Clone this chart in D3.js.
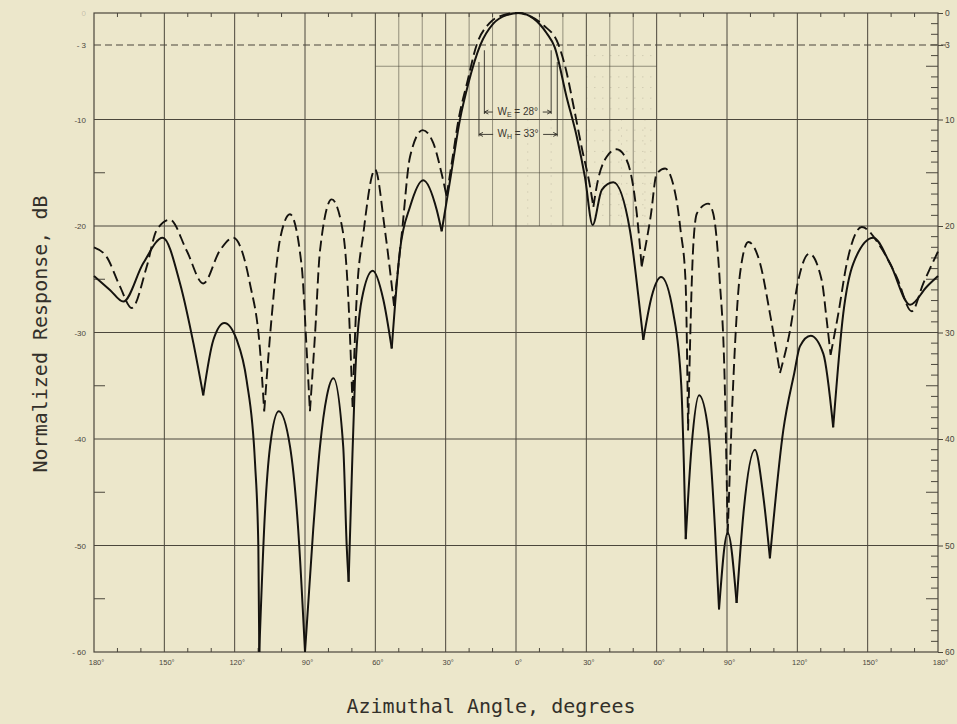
<!DOCTYPE html>
<html><head><meta charset="utf-8">
<script src="https://cdn.jsdelivr.net/npm/d3@7"></script>
<style>
html,body{margin:0;padding:0;background:#ece7cb;}
svg{display:block;}
</style></head><body>
<svg id="chart" width="957" height="724"></svg>
<script>
// ---- data ----
const xTickValues = [-180,-150,-120,-90,-60,-30,0,30,60,90,120,150,180];
const xTickLabels = ["180°","150°","120°","90°","60°","30°","0°","30°","60°","90°","120°","150°","180°"];
const yTickValues = [0,-3,-10,-20,-30,-40,-50,-60];
const yLeftLabels = ["0","- 3","-10","-20","-30","-40","-50","- 60"];
const yRightLabels = ["0","3","10","20","30","40","50","60"];

const solidAngle = [-180,-173.2,-167.5,-159,-150.7,-143.3,-137.6,-133.4,-129.1,-124.4,-119.1,-114.9,-111.3,-109.9,-109.5,-107.1,-104.9,-101.2,-96.4,-92.9,-90,-86.5,-83.6,-80.7,-77.9,-73.7,-72.2,-71.4,-70.1,-68.7,-65.8,-61.1,-56.6,-53.0,-49.5,-45.2,-39.6,-33.8,-31.7,-28.1,-23.9,-20.3,-15.2,-9.7,-4.0,1.2,7.4,13.1,16.5,21.6,25.9,29.4,32.7,36.6,41.5,48.6,52.2,54.3,57.9,61.9,67.1,70.5,71.6,72.4,74.9,78.1,82.0,84.9,86.6,90.3,94.1,97.0,101.9,105.5,108.3,114.0,118.7,121.1,125.7,131.1,135.3,139.6,143.9,152.4,159.5,168.1,175.2,180];
const solidDb = [-24.7,-26.0,-27.1,-23.5,-21.1,-25.4,-31.0,-35.9,-30.7,-29.1,-30.7,-34.5,-42.3,-50.1,-60,-47.0,-40.7,-37.4,-40.7,-48.5,-60,-48.5,-40.7,-36.0,-34.3,-40.7,-50.1,-53.4,-43.9,-34.5,-26.9,-24.2,-26.9,-31.5,-22.3,-18.2,-15.7,-18.5,-20.5,-15.7,-10.0,-6.6,-3.0,-1.0,-0.2,0,-0.5,-1.9,-3.2,-7.9,-11.6,-15.4,-19.9,-16.6,-15.9,-20.4,-26.6,-30.7,-26.6,-24.8,-28.2,-35.0,-42.3,-49.4,-40.7,-35.9,-39.2,-48.5,-56.0,-48.8,-55.4,-47.0,-41.0,-45.4,-51.2,-39.2,-33.8,-31.3,-30.3,-32.0,-38.9,-28.2,-23.5,-21.1,-23.5,-27.4,-25.7,-24.7];

const dashedAngle = [-180,-174.6,-168.9,-163.9,-157.5,-153.3,-147.6,-140.5,-133.4,-126.3,-120.6,-113.5,-109.2,-107.4,-104.2,-100.7,-96.4,-91.4,-89.3,-87.9,-85.7,-83.6,-78.6,-73.7,-71.5,-69.7,-68.0,-65.1,-60.1,-55.9,-52.0,-48.7,-45.2,-39.8,-35.3,-31.7,-29.6,-27.0,-24.5,-20.8,-16.8,-11.5,-5.5,0.5,6,12,18,21.5,24.6,28.0,31.6,33.0,34.4,38.7,42.9,47.2,51.5,53.6,57.5,60.0,63.6,68.5,70.2,72.3,73.4,75.6,77.2,82.0,84.1,86.9,89.0,90.3,92.7,95.6,99.1,104.1,108.3,112.6,116.9,120.4,125.1,130.4,132.5,134.2,137.5,141.1,147.5,155.3,162.4,168.8,173.7,180];
const dashedDb = [-22.0,-22.9,-25.7,-27.7,-23.8,-20.4,-19.4,-22.3,-25.4,-22.3,-21.1,-25.4,-31.6,-37.4,-28.5,-21.3,-18.9,-23.8,-31.6,-37.4,-30.1,-22.3,-17.5,-20.7,-26.9,-37.0,-26.9,-20.7,-14.7,-20.4,-27.5,-20.7,-13.5,-11.0,-12.2,-15.1,-17.2,-13.5,-10.0,-6.5,-3.0,-1.0,-0.2,0,-0.3,-1.2,-2.9,-5.5,-8.8,-12.6,-16.3,-18.2,-16.3,-13.5,-12.8,-13.8,-18.8,-23.8,-19.0,-15.1,-14.6,-17.6,-20.4,-25.1,-39.2,-21.9,-18.8,-17.9,-18.8,-25.1,-34.5,-49.0,-34.5,-24.4,-21.5,-23.5,-28.2,-33.8,-29.8,-25.1,-22.6,-25.1,-28.8,-32.1,-28.2,-23.5,-20.1,-21.9,-24.8,-28.0,-25.4,-22.4];

const beamPlanes = ["E","H"];
const beamWidthDeg = [28,33];

// ---- drawing ----
const W = 957, H = 724;
const svg = d3.select("#chart");
const x = d3.scaleLinear().domain([-180,180]).range([94,938]);
const y = d3.scaleLinear().domain([0,-60]).range([13,652]);
const ink = "#2f2c25";
const gridCol = "#4b473c";

svg.append("rect").attr("width",W).attr("height",H).attr("fill","#ece7cb");

const g = svg.append("g");

// fine dotted grid (detail region)
const dots = g.append("g").attr("stroke",gridCol).attr("stroke-opacity",0.3).attr("stroke-width",0.8).attr("stroke-dasharray","1,7");
d3.range(-4,-20,-1).filter(v=>v%5!==0).forEach(v=>{
  dots.append("line").attr("x1",x(30)).attr("x2",x(60)).attr("y1",y(v)).attr("y2",y(v));
});
[5,15,45,55].forEach(a=>{
  dots.append("line").attr("x1",x(a)).attr("x2",x(a)).attr("y1",y(-10)).attr("y2",y(-20));
});

// fine solid grid in central region
const fine = g.append("g").attr("stroke",gridCol).attr("stroke-width",0.8).attr("stroke-opacity",0.7);
[-50,-40,-20,-10,10,20,40,50].forEach(a=>{
  fine.append("line").attr("x1",x(a)).attr("x2",x(a)).attr("y1",y(0)).attr("y2",y(-20));
});
[-5,-15].forEach(v=>{
  fine.append("line").attr("x1",x(-60)).attr("x2",x(60)).attr("y1",y(v)).attr("y2",y(v));
});

// major grid
const major = g.append("g").attr("stroke",gridCol).attr("stroke-width",1);
xTickValues.slice(1,-1).forEach(a=>{
  major.append("line").attr("x1",x(a)).attr("x2",x(a)).attr("y1",y(0)).attr("y2",y(-60));
});
[-10,-20,-30,-40,-50].forEach(v=>{
  major.append("line").attr("x1",x(-180)).attr("x2",x(180)).attr("y1",y(v)).attr("y2",y(v));
});
// -3 dB reference
g.append("line").attr("x1",x(-180)).attr("x2",x(180)+8).attr("y1",y(-3)).attr("y2",y(-3))
  .attr("stroke",gridCol).attr("stroke-width",1.1).attr("stroke-dasharray","7,4");

// frame
g.append("rect").attr("x",x(-180)).attr("y",y(0)).attr("width",x(180)-x(-180)).attr("height",y(-60)-y(0))
  .attr("fill","none").attr("stroke",gridCol).attr("stroke-width",1.2);

// minor ticks top & bottom every 10°
const tk = g.append("g").attr("stroke",gridCol).attr("stroke-width",1);
d3.range(-170,180,10).filter(a=>a%30!==0).forEach(a=>{
  tk.append("line").attr("x1",x(a)).attr("x2",x(a)).attr("y1",y(0)).attr("y2",y(0)+4);
  tk.append("line").attr("x1",x(a)).attr("x2",x(a)).attr("y1",y(-60)).attr("y2",y(-60)-4);
});
// right ticks every 1 dB
d3.range(-1,-60,-1).filter(v=>v%10!==0).forEach(v=>{
  const len = (v%5===0)?12:7;
  tk.append("line").attr("x1",x(180)).attr("x2",x(180)-len).attr("y1",y(v)).attr("y2",y(v));
});
// left minor ticks
[-15,-25,-35,-45,-55].forEach(v=>{
  tk.append("line").attr("x1",x(-180)).attr("x2",x(-180)+11).attr("y1",y(v)).attr("y2",y(v));
});

// axes labels via d3 axes
const fmtX = d=>xTickLabels[xTickValues.indexOf(d)];
const ax = svg.append("g").attr("transform",`translate(2,${y(-60)})`)
  .call(d3.axisBottom(x).tickValues(xTickValues).tickFormat(fmtX).tickSize(0).tickPadding(8));
ax.select(".domain").remove();
ax.selectAll("text").attr("font-family","Liberation Sans, Arial, sans-serif").attr("font-size",7.5).attr("fill","#4a463c");

const ayl = svg.append("g").attr("transform",`translate(${x(-180)},0)`)
  .call(d3.axisLeft(y).tickValues(yTickValues).tickFormat(d=>yLeftLabels[yTickValues.indexOf(d)]).tickSize(0).tickPadding(8));
ayl.select(".domain").remove();
ayl.selectAll("text").attr("font-family","Liberation Sans, Arial, sans-serif").attr("font-size",8).attr("fill","#4a463c");
ayl.selectAll(".tick").filter(d=>d===0).select("text").attr("fill-opacity",0.25);

const ayr = svg.append("g").attr("transform",`translate(${x(180)},0)`)
  .call(d3.axisRight(y).tickValues(yTickValues).tickFormat(d=>yRightLabels[yTickValues.indexOf(d)]).tickSize(5).tickPadding(2));
ayr.select(".domain").remove();
ayr.selectAll("line").attr("stroke",gridCol);
ayr.selectAll("text").attr("font-family","Liberation Sans, Arial, sans-serif").attr("font-size",8.5).attr("fill","#4a463c");

// curves: split at sharp nulls so they form cusps
function segments(ang, db){
  const pts = ang.map((a,i)=>[a,db[i]]);
  const segs = []; let cur = [pts[0]];
  for(let i=1;i<pts.length;i++){
    cur.push(pts[i]);
    if(i<pts.length-1){
      const s1 = (pts[i-1][1]-pts[i][1])/(pts[i][0]-pts[i-1][0]);
      const s2 = (pts[i+1][1]-pts[i][1])/(pts[i+1][0]-pts[i][0]);
      if(s1>0.9 && s2>0.9){ segs.push(cur); cur=[pts[i]]; }
    }
  }
  segs.push(cur);
  return segs;
}
const line = d3.line().x(d=>x(d[0])).y(d=>y(d[1])).curve(d3.curveMonotoneX);
const curves = svg.append("g").attr("fill","none").attr("stroke","#15130f").attr("stroke-linejoin","round");
segments(solidAngle, solidDb).forEach(s=>{
  curves.append("path").attr("d",line(s)).attr("stroke-width",2);
});
const dashedPath = segments(dashedAngle, dashedDb).map(s=>line(s)).join("");
curves.append("path").attr("d",dashedPath).attr("stroke-width",1.9).attr("stroke-dasharray","11,5");

// beamwidth annotation
const ann = svg.append("g").attr("stroke",ink).attr("stroke-width",0.9).attr("fill","none");
const beamEdges = [[-13.5,15.0,-3.5,-9.3],[-15.8,17.6,-4.6,-11.4]];
beamPlanes.forEach((p,i)=>{
  const [l,r,t,b] = beamEdges[i];
  const xl = x(l), xr = x(r), yt = y(t), yb = y(b);
  ann.append("line").attr("x1",xl).attr("x2",xl).attr("y1",yt).attr("y2",yb+2);
  ann.append("line").attr("x1",xr).attr("x2",xr).attr("y1",yt).attr("y2",yb+2);
  const cx = (xl+xr)/2;
  const label = svg.append("text").attr("x",cx).attr("y",yb+3).attr("text-anchor","middle")
    .attr("font-family","Liberation Sans, Arial, sans-serif").attr("font-size",10).attr("fill","#3a372f");
  label.append("tspan").text("W");
  label.append("tspan").attr("font-size",7).attr("dy",2).text(p);
  label.append("tspan").attr("dy",-2).text(" = " + beamWidthDeg[i] + "°");
  const tw = 46;
  ann.append("line").attr("x1",xl).attr("x2",cx-tw/2-2).attr("y1",yb).attr("y2",yb);
  ann.append("line").attr("x1",cx+tw/2+2).attr("x2",xr).attr("y1",yb).attr("y2",yb);
  ann.append("path").attr("d",`M${xl+4},${yb-2}L${xl},${yb}L${xl+4},${yb+2}`);
  ann.append("path").attr("d",`M${xr-4},${yb-2}L${xr},${yb}L${xr-4},${yb+2}`);
});

// axis titles
svg.append("text").attr("x",491).attr("y",713).attr("text-anchor","middle")
  .attr("font-family","DejaVu Sans Mono, Liberation Mono, monospace").attr("font-size",20).attr("fill","#33302a")
  .text("Azimuthal Angle, degrees");
svg.append("text").attr("transform","translate(47,334) rotate(-90)").attr("text-anchor","middle")
  .attr("font-family","DejaVu Sans Mono, Liberation Mono, monospace").attr("font-size",20).attr("fill","#33302a")
  .text("Normalized Response, dB");
</script>
</body></html>
